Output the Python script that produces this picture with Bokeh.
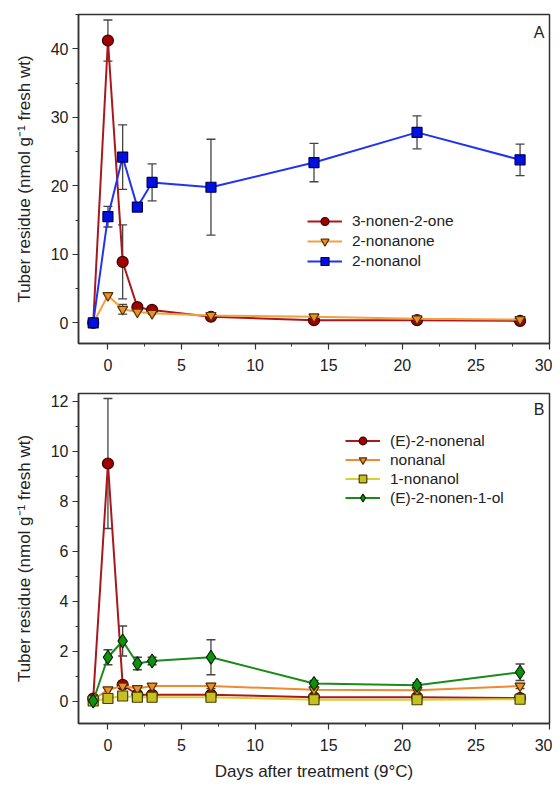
from bokeh.plotting import figure
from bokeh.layouts import column
from bokeh.models import (ColumnDataSource, Whisker, TeeHead, Legend, LegendItem,
                          Range1d, SingleIntervalTicker, Label)
from bokeh.embed import file_html
from bokeh.resources import INLINE

days = [-1, 0, 1, 2, 3, 7, 14, 21, 28]

# Panel A
nonenone = [0, 41.2, 8.9, 2.3, 1.9, 0.9, 0.4, 0.4, 0.3]
nonenone_err = [0, 3.0, 5.4, 0, 0, 0, 0, 0, 0]
nonanone = [0, 4.0, 2.0, 1.6, 1.4, 1.1, 0.9, 0.6, 0.5]
nonanone_err = [0, 0, 0.7, 0, 0, 0, 0, 0, 0]
nonanol2 = [0, 15.5, 24.2, 16.9, 20.5, 19.8, 23.4, 27.8, 23.8]
nonanol2_err = [0, 1.5, 4.7, 0, 2.7, 7.0, 2.8, 2.4, 2.3]

# Panel B
nonenal = [0.1, 9.5, 0.65, 0.25, 0.25, 0.25, 0.15, 0.15, 0.12]
nonenal_err = [0, 2.6, 0, 0, 0, 0, 0, 0, 0]
nonanal = [0.05, 0.45, 0.6, 0.5, 0.6, 0.6, 0.45, 0.43, 0.6]
nonanal_err = [0, 0, 0.1, 0, 0, 0.1, 0, 0, 0.1]
nonanol1 = [0.0, 0.1, 0.2, 0.15, 0.15, 0.15, 0.05, 0.05, 0.07]
nonanol1_err = [0, 0, 0, 0, 0, 0, 0, 0, 0]
nonenol = [0.0, 1.75, 2.4, 1.5, 1.6, 1.75, 0.7, 0.63, 1.15]
nonenol_err = [0, 0.3, 0.6, 0.25, 0.15, 0.7, 0.12, 0.1, 0.33]

labels_a = ["3-nonen-2-one", "2-nonanone", "2-nonanol"]
labels_b = ["(E)-2-nonenal", "nonanal", "1-nonanol", "(E)-2-nonen-1-ol"]

FONT = "Liberation Sans"
YLABEL = "Tuber residue (nmol g\u207b\u00b9 fresh wt)"


def style(p, xinterval, yinterval):
    p.xgrid.visible = False
    p.ygrid.visible = False
    p.outline_line_color = "#333333"
    p.outline_line_width = 1.5
    p.xaxis.ticker = SingleIntervalTicker(interval=xinterval, num_minor_ticks=2)
    p.yaxis.ticker = SingleIntervalTicker(interval=yinterval, num_minor_ticks=2)
    for ax in (p.xaxis[0], p.yaxis[0]):
        ax.axis_line_color = "#333333"
        ax.axis_line_width = 1.5
        ax.major_tick_out = 6
        ax.major_tick_in = 0
        ax.minor_tick_out = 3
        ax.minor_tick_in = 0
        ax.major_tick_line_color = "#333333"
        ax.minor_tick_line_color = "#333333"
        ax.major_tick_line_width = 1.2
        ax.major_label_text_font = FONT
        ax.major_label_text_font_size = "16px"
        ax.major_label_text_color = "#222222"
        ax.axis_label_text_font = FONT
        ax.axis_label_text_font_size = "17px"
        ax.axis_label_text_font_style = "normal"
        ax.axis_label_text_color = "#222222"
    p.xaxis.major_label_standoff = 9
    p.yaxis.major_label_standoff = 4


def series(p, y, err, line_color, fill_color, edge_color, marker, size):
    if any(e > 0 for e in err):
        xs = [d for d, e in zip(days, err) if e > 0]
        up = [v + e for v, e in zip(y, err) if e > 0]
        lo = [v - e for v, e in zip(y, err) if e > 0]
        src = ColumnDataSource(dict(x=xs, upper=up, lower=lo))
        w = Whisker(source=src, base="x", upper="upper", lower="lower",
                    dimension="height", line_color="#444444", line_width=1.3,
                    upper_head=TeeHead(size=9, line_color="#444444", line_width=1.3),
                    lower_head=TeeHead(size=9, line_color="#444444", line_width=1.3))
        p.add_layout(w)
    src = ColumnDataSource(dict(x=days, y=y))
    lr = p.line("x", "y", source=src, line_color=line_color, line_width=2)
    sr = p.scatter("x", "y", source=src, marker=marker, size=size,
                   fill_color=fill_color, line_color=edge_color, line_width=1.2)
    return [lr, sr]


# ---------- Panel A ----------
p1 = figure(width=552, height=383, output_backend="svg", toolbar_location=None,
            x_range=Range1d(-2, 30), y_range=Range1d(-3, 45),
            min_border_left=78, min_border_right=3, min_border_top=14,
            min_border_bottom=40)
style(p1, 5, 10)
p1.yaxis.axis_label = YLABEL
p1.yaxis.axis_label_standoff = 14

ra = [
    series(p1, nonenone, nonenone_err, "#a8181c", "#a00000", "#3a0000", "circle", 11),
    series(p1, nonanone, nonanone_err, "#f3a040", "#e8902a", "#5a3000", "inverted_triangle", 10),
    series(p1, nonanol2, nonanol2_err, "#2233f0", "#0010e0", "#000050", "square", 10),
]
leg1 = Legend(items=[LegendItem(label=l, renderers=r) for l, r in zip(labels_a, ra)],
              location=(229, 72), padding=0, spacing=0, margin=0,
              glyph_width=35, glyph_height=20, label_height=20, label_standoff=10,
              label_text_font=FONT, label_text_font_size="15.5px",
              label_text_color="#222222", border_line_color=None,
              background_fill_alpha=0)
p1.add_layout(leg1)
p1.add_layout(Label(x=30, y=45, x_offset=-5, y_offset=-9, text="A",
                    text_align="right", text_baseline="top", text_font=FONT,
                    text_font_size="16px", text_color="#222222"))

# ---------- Panel B ----------
p2 = figure(width=552, height=406, output_backend="svg", toolbar_location=None,
            x_range=Range1d(-2, 30), y_range=Range1d(-0.9, 12.3),
            min_border_left=78, min_border_right=3, min_border_top=10,
            min_border_bottom=66)
style(p2, 5, 2)
p2.yaxis.axis_label = YLABEL
p2.yaxis.axis_label_standoff = 14
p2.xaxis.axis_label = "Days after treatment (9\u00b0C)"
p2.xaxis.axis_label_standoff = 8

rb = [
    series(p2, nonenal, nonenal_err, "#a8181c", "#a00000", "#3a0000", "circle", 11),
    series(p2, nonanal, nonanal_err, "#f08a30", "#e8902a", "#5a3000", "inverted_triangle", 10),
    series(p2, nonanol1, nonanol1_err, "#d8d030", "#c8c020", "#404000", "square", 10),
    series(p2, nonenol, nonenol_err, "#1a8a1a", "#109010", "#002800", "diamond", 14),
]
leg2 = Legend(items=[LegendItem(label=l, renderers=r) for l, r in zip(labels_b, rb)],
              location=(267, 216), padding=0, spacing=0, margin=0,
              glyph_width=35, glyph_height=19, label_height=19, label_standoff=10,
              label_text_font=FONT, label_text_font_size="15.5px",
              label_text_color="#222222", border_line_color=None,
              background_fill_alpha=0)
p2.add_layout(leg2)
p2.add_layout(Label(x=30, y=12.3, x_offset=-5, y_offset=-7, text="B",
                    text_align="right", text_baseline="top", text_font=FONT,
                    text_font_size="16px", text_color="#222222"))

layout = column(p1, p2, spacing=0)
open("out.html", "w").write(file_html(layout, INLINE))
